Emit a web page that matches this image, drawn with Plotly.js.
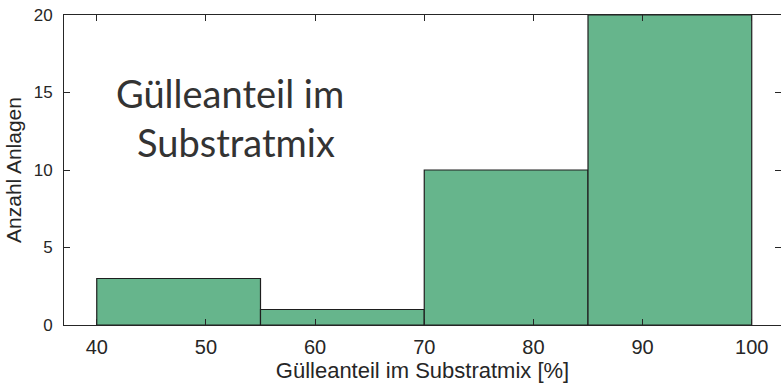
<!DOCTYPE html>
<html>
<head>
<meta charset="utf-8">
<script src="https://cdn.plot.ly/plotly-3.0.1.min.js"></script>
<style>
  html, body { margin: 0; padding: 0; background: #ffffff; }
  #chart { width: 781px; height: 390px; }
</style>
</head>
<body>
<div id="chart"></div>
<script>
// Histogram of manure share in the substrate mix
const binEdges = [40, 55, 70, 85, 100];
const counts = [3, 1, 10, 20];
const xTickValues = [40, 50, 60, 70, 80, 90, 100];
const yTickValues = [0, 5, 10, 15, 20];
const xTitle = 'Gülleanteil im Substratmix [%]';
const yTitle = 'Anzahl Anlagen';
const noteLine1 = 'Gülleanteil im';
const noteLine2 = 'Substratmix';

const centers = counts.map((_, i) => (binEdges[i] + binEdges[i + 1]) / 2);
const widths = counts.map((_, i) => binEdges[i + 1] - binEdges[i]);

const axisColor = '#262626';
const family = 'Liberation Sans, Arial, sans-serif';
const noteFont = { family: 'Lato, Noto Sans, sans-serif', size: 38, color: '#333333' };

const trace = {
  type: 'bar',
  x: centers,
  y: counts,
  width: widths,
  marker: { color: '#66b58c', line: { color: '#1e1e1e', width: 1.2 } },
  hoverinfo: 'skip'
};

const layout = {
  width: 781,
  height: 390,
  margin: { l: 64, r: 0, t: 15, b: 65 },
  paper_bgcolor: '#ffffff',
  plot_bgcolor: '#ffffff',
  showlegend: false,
  bargap: 0,
  xaxis: {
    range: [37, 102.68],
    tickvals: xTickValues,
    ticktext: xTickValues.map(String),
    ticks: 'inside',
    ticklen: 6,
    tickwidth: 1,
    tickcolor: axisColor,
    showline: true,
    linecolor: axisColor,
    linewidth: 1,
    mirror: 'ticks',
    showgrid: false,
    zeroline: false,
    tickfont: { family: family, size: 20, color: axisColor },
    ticklabelstandoff: 4,
    title: { text: xTitle, font: { family: family, size: 22, color: axisColor }, standoff: 3 }
  },
  yaxis: {
    range: [0, 20],
    tickvals: yTickValues,
    ticktext: yTickValues.map(String),
    ticks: 'inside',
    ticklen: 6,
    tickwidth: 1,
    tickcolor: axisColor,
    showline: true,
    linecolor: axisColor,
    linewidth: 1,
    mirror: 'ticks',
    showgrid: false,
    zeroline: false,
    tickfont: { family: family, size: 17, color: axisColor },
    ticklabelstandoff: 7,
    title: { text: yTitle, font: { family: family, size: 21, color: axisColor }, standoff: 6 }
  },
  annotations: [
    {
      text: noteLine1, xref: 'paper', yref: 'paper',
      x: 0.0697, y: 0.75, xanchor: 'left', yanchor: 'middle', showarrow: false,
      font: noteFont
    },
    {
      text: noteLine2, xref: 'paper', yref: 'paper',
      x: 0.099, y: 0.589, xanchor: 'left', yanchor: 'middle', showarrow: false,
      font: noteFont
    }
  ]
};

Plotly.newPlot('chart', [trace], layout, { displayModeBar: false, staticPlot: true });
</script>
</body>
</html>
